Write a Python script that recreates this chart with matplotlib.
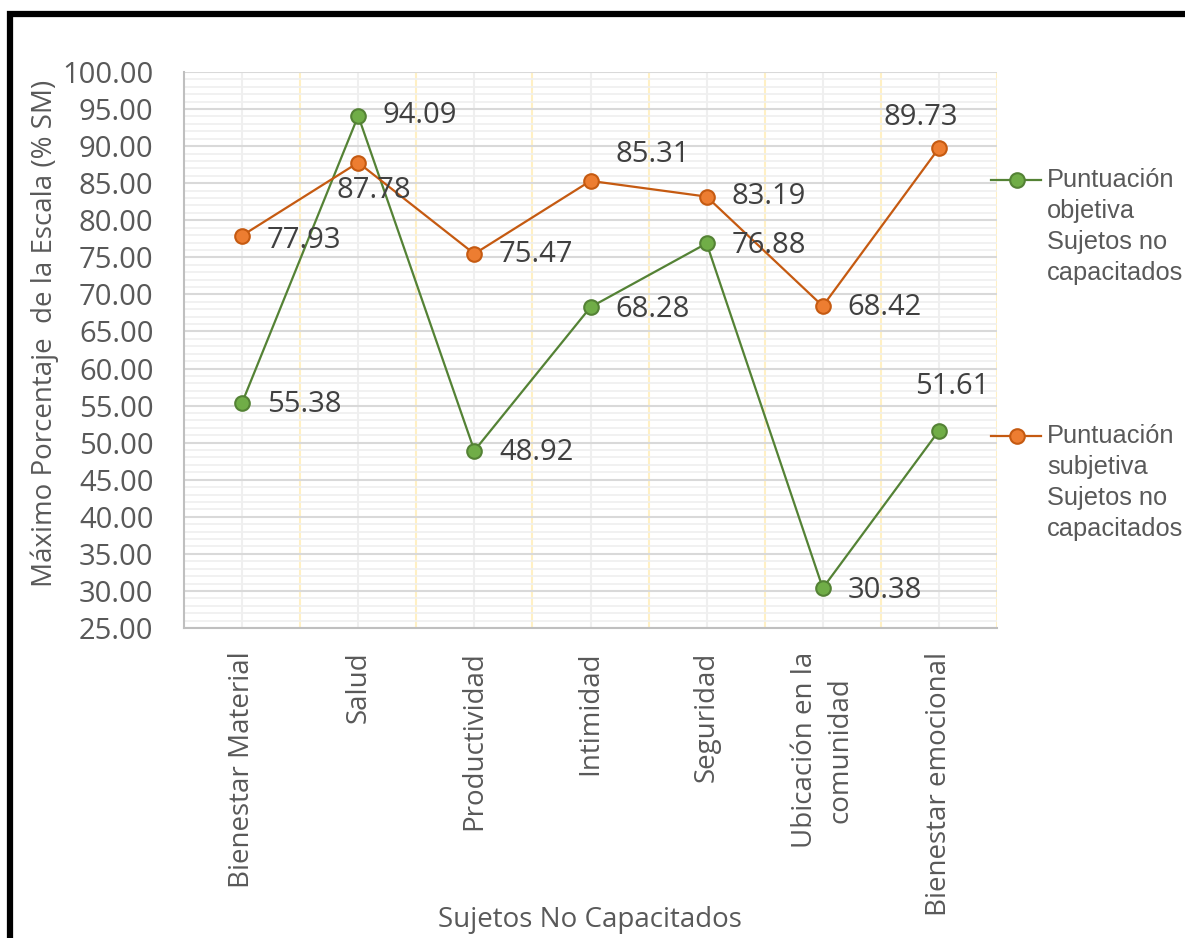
import matplotlib.pyplot as plt
from matplotlib.patches import Rectangle
from matplotlib.lines import Line2D
import numpy as np

categories = ["Bienestar Material", "Salud", "Productividad", "Intimidad",
              "Seguridad", "Ubicación en la\ncomunidad", "Bienestar emocional"]
objetiva = [55.38, 94.09, 48.92, 68.28, 76.88, 30.38, 51.61]
subjetiva = [77.93, 87.78, 75.47, 85.31, 83.19, 68.42, 89.73]
series_names = ["Puntuación\nobjetiva\nSujetos no\ncapacitados",
                "Puntuación\nsubjetiva\nSujetos no\ncapacitados"]

# label offsets in pixels (dx right, dy down) from each point
obj_offsets = [(62, 2), (62, 0), (62, 2), (62, 2), (62, 2), (62, 2), (13, -44)]
subj_offsets = [(62, 5), (16, 28), (62, 1), (62, -26), (62, 0), (62, 1), (-18, -31)]

green, green_dark = "#70ad47", "#548235"
orange, orange_dark = "#ed7d31", "#c55a11"
font = "Open Sans"

fig = plt.figure(figsize=(11.85, 9.38), dpi=100)
ax = fig.add_axes([184 / 1185, 1 - 628 / 938, 813 / 1185, 556 / 938])

x = np.arange(len(categories))
ax.plot(x, objetiva, color=green_dark, lw=1.6, marker="o", ms=10.5,
        mfc=green, mec=green_dark, mew=1.5, zorder=5)
ax.plot(x, subjetiva, color=orange_dark, lw=1.6, marker="o", ms=10.5,
        mfc=orange, mec=orange_dark, mew=1.5, zorder=5)

for vals, offs in ((objetiva, obj_offsets), (subjetiva, subj_offsets)):
    for i, (v, (dx, dy)) in enumerate(zip(vals, offs)):
        ax.annotate(f"{v:.2f}", (i, v), xytext=(dx, -dy), textcoords="offset pixels",
                    ha="center", va="center", fontsize=21, color="#404040",
                    family=font, zorder=6)

ax.set_xlim(-0.5, len(categories) - 0.5)
ax.set_ylim(25, 100)
ax.set_yticks(np.arange(25, 100.1, 5))
ax.set_yticks(np.arange(25, 100.1, 1), minor=True)
ax.set_yticklabels([f"{t:.2f}" for t in np.arange(25, 100.1, 5)])
ax.set_xticks(x)
ax.set_xticklabels(categories, rotation=90, va="top", ha="center",
                   multialignment="center", linespacing=1.35)

ax.grid(axis="y", which="minor", color="#efefef", lw=1.2, zorder=0)
ax.grid(axis="y", which="major", color="#d9d9d9", lw=1.5, zorder=1)
ax.grid(axis="x", which="major", color="#efefef", lw=1.5, zorder=0)
for b in np.arange(0.5, len(categories), 1):
    ax.axvline(b, color="#fff0c4", lw=1.5, zorder=1)

ax.tick_params(length=0, which="both")
ax.tick_params(axis="y", pad=22, labelsize=21, labelcolor="#595959")
ax.tick_params(axis="x", pad=17, labelsize=20, labelcolor="#595959")
for lab in ax.get_xticklabels() + ax.get_yticklabels():
    lab.set_family(font)

for s in ("top", "right"):
    ax.spines[s].set_visible(False)
for s in ("left", "bottom"):
    ax.spines[s].set_color("#bfbfbf")
    ax.spines[s].set_linewidth(1.5)

fig.text(45 / 1185, 1 - 333 / 938, "Máximo Porcentaje  de la Escala (% SM)",
         rotation=90, ha="center", va="center", fontsize=20, color="#595959", family=font)
fig.text(590 / 1185, 1 - 920 / 938, "Sujetos No Capacitados",
         ha="center", va="center", fontsize=20, color="#595959", family=font)

# legend drawn by hand at the right edge
for name, col, edge, ly in ((series_names[0], green, green_dark, 180),
                            (series_names[1], orange, orange_dark, 436)):
    yy = 1 - ly / 938
    fig.add_artist(Line2D([991 / 1185, 1041 / 1185], [yy, yy], color=edge, lw=1.6,
                          transform=fig.transFigure))
    fig.add_artist(Line2D([1017 / 1185], [yy], marker="o", ms=10.5, mfc=col,
                          mec=edge, mew=1.5, transform=fig.transFigure))
    fig.text(1047 / 1185, yy + 12 / 938, name, ha="left", va="top", fontsize=18.3,
             color="#595959", family="Liberation Sans", linespacing=1.36)

fig.add_artist(Rectangle((10 / 1185, -20 / 938), 1.2, (938 - 14 + 20) / 938,
                         transform=fig.transFigure, fill=False, ec="black", lw=4.5))

fig.savefig("out.png", dpi=100)
